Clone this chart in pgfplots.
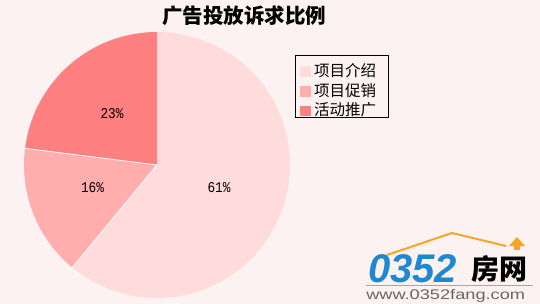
\documentclass[border=0pt]{standalone}
\usepackage{pgfplots}
\pgfplotsset{compat=1.18}
\usepackage{pgfplotstable}
\usepackage{fontspec}
\setmainfont{Noto Sans CJK SC}
\newfontfamily\monofont{Liberation Mono}
\newfontfamily\latinfont{Liberation Sans}
\definecolor{bg}{HTML}{FDF2F2}
\definecolor{cA}{HTML}{FFDCDC}
\definecolor{cB}{HTML}{FFADAD}
\definecolor{cC}{HTML}{FF8080}
\definecolor{logoblue}{HTML}{1E88D0}
\definecolor{logoorange}{HTML}{F5A623}
\pgfplotstableread{
label value
A 61
B 16
C 23
}\piedata
\pgfplotstablegetelem{0}{value}\of\piedata \let\vA\pgfplotsretval
\pgfplotstablegetelem{1}{value}\of\piedata \let\vB\pgfplotsretval
\pgfplotstablegetelem{2}{value}\of\piedata \let\vC\pgfplotsretval
\pgfmathsetmacro\aA{90-3.6*\vA}
\pgfmathsetmacro\aB{\aA-3.6*\vB}
\pgfmathsetmacro\aC{\aB-3.6*\vC}
\begin{document}
\begin{tikzpicture}
\useasboundingbox (0,0) rectangle (540pt,304pt);
\fill[bg] (0,0) rectangle (540pt,304pt);
\begin{axis}[at={(0,0)},anchor=south west,
  width=540pt,height=304pt,scale only axis,
  xmin=0,xmax=540,ymin=0,ymax=304,y dir=reverse,
  axis lines=none,clip=false]
\fill[cA] (axis cs:157,165) -- ++(90:133pt) arc[start angle=90,end angle=\aA,radius=133pt] -- cycle;
\fill[cB] (axis cs:157,165) -- ++(\aA:133pt) arc[start angle=\aA,end angle=\aB,radius=133pt] -- cycle;
\fill[cC] (axis cs:157,165) -- ++(\aB:133pt) arc[start angle=\aB,end angle=\aC,radius=133pt] -- cycle;
\draw[white,line width=0.8pt] (axis cs:157,165) -- ++(\aA:133pt);
\draw[white,line width=0.8pt] (axis cs:157,165) -- ++(\aB:133pt);
\node[xscale=0.85,font=\monofont\fontsize{15}{15}\selectfont] at (axis cs:219,188) {61\%};
\node[xscale=0.85,font=\monofont\fontsize{15}{15}\selectfont] at (axis cs:92.5,188) {16\%};
\node[xscale=0.85,font=\monofont\fontsize{15}{15}\selectfont] at (axis cs:112,114) {23\%};
% title
\node[font=\fontsize{20.5}{20.5}\selectfont\bfseries] at (axis cs:244,16) {广告投放诉求比例};
% legend
\draw[black,fill=bg,line width=0.8pt] (axis cs:295,55) rectangle (axis cs:388,117);
\fill[cA] (axis cs:300,66) rectangle (axis cs:311,77);
\fill[cB] (axis cs:300,86) rectangle (axis cs:311,97);
\fill[cC] (axis cs:300,106) rectangle (axis cs:311,116);
\node[anchor=west,font=\fontsize{15.5}{15.5}\selectfont,inner sep=0] at (axis cs:314,71) {项目介绍};
\node[anchor=west,font=\fontsize{15.5}{15.5}\selectfont,inner sep=0] at (axis cs:314,91) {项目促销};
\node[anchor=west,font=\fontsize{15.5}{15.5}\selectfont,inner sep=0] at (axis cs:314,110) {活动推广};
% watermark
\draw[logoorange,line width=2pt] (axis cs:387,255) -- (axis cs:452,233) -- (axis cs:506,246);
\fill[logoorange] (axis cs:509,246) -- (axis cs:517,237) -- (axis cs:525,246) -- cycle;
\fill[logoorange] (axis cs:514,246) rectangle (axis cs:520,250);
\node[anchor=base west,inner sep=0,font=\latinfont\fontsize{40}{40}\selectfont\bfseries\itshape,text=logoblue] at (axis cs:368,282) {0352};
\node[anchor=base west,inner sep=0,font=\fontsize{28}{28}\selectfont\bfseries] at (axis cs:471,279) {房网};
\draw[gray!70,line width=0.6pt] (axis cs:366,285) -- (axis cs:533,285);
\node[anchor=base west,inner sep=0,xscale=1.3,font=\latinfont\fontsize{14}{14}\selectfont,text=gray!80!black] at (axis cs:366,299) {www.0352fang.com};
\end{axis}
\end{tikzpicture}
\end{document}
